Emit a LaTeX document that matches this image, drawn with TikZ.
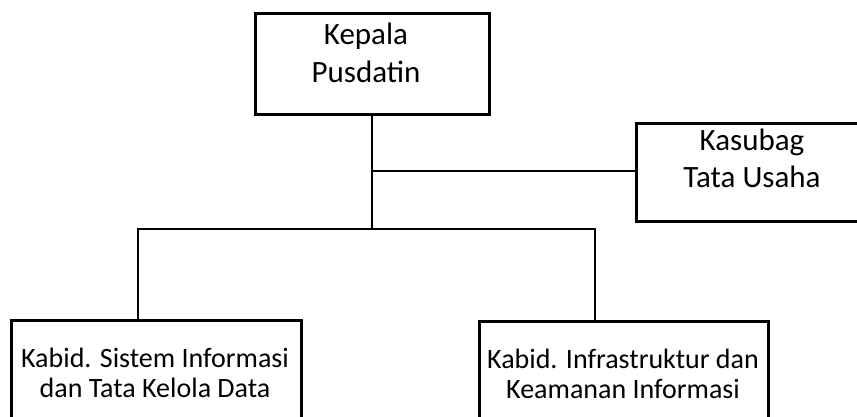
\documentclass[tikz,border=0pt]{standalone}
\usepackage{fontspec}
\setmainfont{Carlito}
\begin{document}
\begin{tikzpicture}[x=1pt,y=-1pt,
  box/.style={draw,line width=2.8pt,inner sep=0pt,anchor=north west},
  conn/.style={line width=2.8pt},
  bigtxt/.style={align=center,inner sep=0pt,anchor=base,font=\fontsize{31}{38}\selectfont},
  smalltxt/.style={align=center,inner sep=0pt,anchor=base,font=\fontsize{28}{30}\selectfont}]
\useasboundingbox (0,0) rectangle (857,417);
\clip (0,0) rectangle (857,417);
\fill[white] (0,0) rectangle (857,417);
% boxes
\node[box,minimum width=234pt,minimum height=101pt] (top) at (254,12) {};
\node[box,minimum width=234pt,minimum height=98pt] (tu) at (635,122) {};
\node[box,minimum width=290pt,minimum height=130pt] (lb) at (10,319) {};
\node[box,minimum width=289pt,minimum height=130pt] (rb) at (478,320) {};
% texts (anchor = baseline of last line)
\node[bigtxt] (toptxt) at (366,83) {Kepala\\Pusdatin};
\node[bigtxt] (tutxt) at (752,188) {Kasubag\\Tata Usaha};
\node[smalltxt] (lbtxt) at (155,397) {Kabid. Sistem Informasi\\dan Tata Kelola Data};
\node[smalltxt] (rbtxt) at (623,398) {Kabid. Infrastruktur dan\\Keamanan Informasi};
% connectors
\coordinate (jc) at (372,229);
\coordinate (jt) at (372,171);
\coordinate (jl) at (138,229);
\coordinate (jr) at (595,229);
\draw[conn] (top.south -| jc) -- (jc);
\draw[conn] (jt) -- (tu.west |- jt);
\draw[conn] (jl |- lb.north) -- (jl) -- (jr) -- (jr |- rb.north);
\end{tikzpicture}
\end{document}
